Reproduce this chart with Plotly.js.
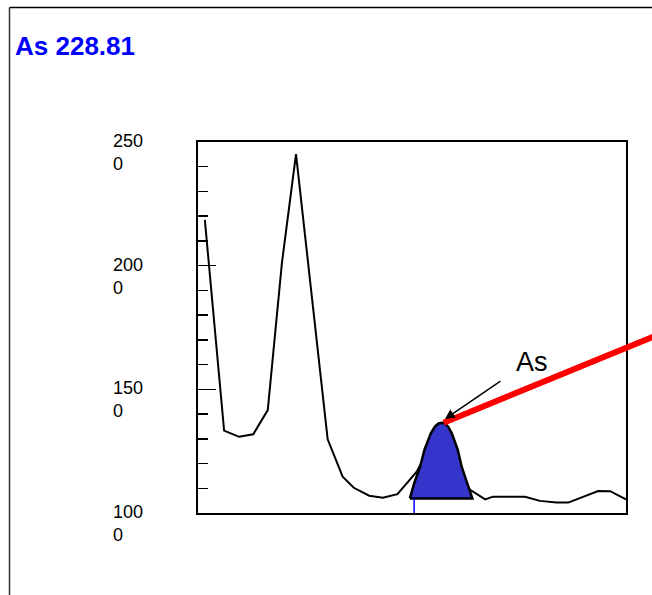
<!DOCTYPE html>
<html>
<head>
<meta charset="utf-8">
<script src="https://cdn.plot.ly/plotly-3.0.1.min.js"></script>
<style>html,body{margin:0;padding:0;background:#fff;}#chart{width:652px;height:595px;}</style>
</head>
<body>
<div id="chart"></div>
<script>
// Spectrum (channel position, intensity)
const specX = [1.6, 6.1, 9.6, 12.9, 16.3, 19.6, 22.9, 30.3, 33.8, 36.4, 40.0, 43.2, 46.6, 51.1, 56.8, 63.4, 67.1, 68.9, 76.4, 79.9, 83.8, 86.5, 93.5, 96.3, 100];
const specY = [2185, 1333, 1308, 1318, 1416, 2010, 2451, 1298, 1147, 1102, 1070, 1062, 1076, 1167, 1356, 1096, 1055, 1066, 1066, 1049, 1042, 1042, 1089, 1088, 1055];
// Fitted As peak outline
const peakX = [49.5, 50.5, 51.9, 52.9, 54.4, 55.4, 56.2, 56.9, 57.7, 58.4, 59.3, 60.7, 61.6, 63.0, 64.1, 49.5];
const peakY = [1059, 1120, 1187, 1255, 1322, 1350, 1362, 1365, 1362, 1350, 1322, 1255, 1187, 1120, 1059, 1059];
// Peak start marker
const markerX = [50.5, 50.5];
const markerY = [1000, 1059];
// Axis
const tickValues = [1000, 1500, 2000, 2500];
const tickLabels = ["100<br>0", "150<br>0", "200<br>0", "250<br>0"];
const yRange = [1000, 2500];
const xRange = [0, 100];
const titleText = "As 228.81";
const peakLabel = "As";
const peakTopX = 57.7, peakTopY = 1380;

const W = 652, H = 595, L = 198, R = 26, T = 142, B = 82;
const pw = W - L - R, ph = H - T - B;
const px2paperX = p => (p - L) / pw;
const px2paperY = p => (H - B - p) / ph;
const dataToPaperX = v => (v - xRange[0]) / (xRange[1] - xRange[0]);
const dataToPaperY = v => (v - yRange[0]) / (yRange[1] - yRange[0]);

const traces = [
  {x: specX, y: specY, type: 'scatter', mode: 'lines', line: {color: '#000', width: 2}, hoverinfo: 'skip'},
  {x: peakX, y: peakY, type: 'scatter', mode: 'lines', fill: 'toself', fillcolor: '#3535CC',
   line: {color: '#000', width: 2.5}, hoverinfo: 'skip'},
  {x: markerX, y: markerY, type: 'scatter', mode: 'lines', line: {color: '#0000FF', width: 1.5}, hoverinfo: 'skip'}
];

const annotations = tickValues.map((v, i) => ({
  text: tickLabels[i], xref: 'paper', yref: 'y', x: px2paperX(111), y: v,
  xanchor: 'left', yanchor: 'top', align: 'left', showarrow: false, yshift: 13,
  font: {family: 'Liberation Sans, Arial, sans-serif', size: 18, color: '#000'}
}));
annotations.push({
  text: '', x: peakTopX, y: peakTopY, xref: 'x', yref: 'y', showarrow: true,
  ax: 57, ay: -39, arrowhead: 2, arrowsize: 1.3, arrowwidth: 1.5, arrowcolor: '#000', standoff: 0
});
annotations.push({
  text: peakLabel, xref: 'paper', yref: 'paper', x: px2paperX(532), y: px2paperY(362),
  xanchor: 'center', yanchor: 'middle', showarrow: false,
  font: {family: 'Liberation Sans, Arial, sans-serif', size: 27, color: '#000'}
});

const shapes = [
  // red pointer line from peak top out past the frame
  {type: 'line', xref: 'paper', yref: 'paper', layer: 'above',
   x0: dataToPaperX(57.4), y0: dataToPaperY(1365), x1: px2paperX(660), y1: px2paperY(334),
   line: {color: '#FF0000', width: 6}},
  // outer frame (top and left edges)
  {type: 'line', xref: 'paper', yref: 'paper', x0: px2paperX(9.5), y0: px2paperY(7.5), x1: px2paperX(653), y1: px2paperY(7.5),
   line: {color: '#000', width: 1.5}},
  {type: 'line', xref: 'paper', yref: 'paper', x0: px2paperX(9.5), y0: px2paperY(7.5), x1: px2paperX(9.5), y1: px2paperY(596),
   line: {color: '#333', width: 1.5}}
];

const layout = {
  width: W, height: H,
  margin: {l: L, r: R, t: T, b: B, pad: 0},
  paper_bgcolor: '#fff', plot_bgcolor: '#fff',
  showlegend: false,
  title: {text: titleText, xref: 'container', yref: 'container', x: 15 / W, xanchor: 'left',
          y: 1 - 46 / H, yanchor: 'middle',
          font: {family: 'Liberation Sans, Arial, sans-serif', size: 26, color: '#0000FF', weight: 'bold'}},
  xaxis: {range: xRange, showgrid: false, zeroline: false, showticklabels: false, ticks: '',
          showline: true, linecolor: '#000', linewidth: 2, mirror: true},
  yaxis: {range: yRange, showgrid: false, zeroline: false, showticklabels: false,
          tickmode: 'array', tickvals: tickValues, ticks: 'inside', ticklen: 18, tickwidth: 1.5, tickcolor: '#000',
          minor: {dtick: 100, ticks: 'inside', ticklen: 10, tickwidth: 1.5, tickcolor: '#000', showgrid: false},
          showline: true, linecolor: '#000', linewidth: 2, mirror: true},
  annotations: annotations,
  shapes: shapes
};

Plotly.newPlot('chart', traces, layout, {staticPlot: true, displayModeBar: false});
</script>
</body>
</html>
